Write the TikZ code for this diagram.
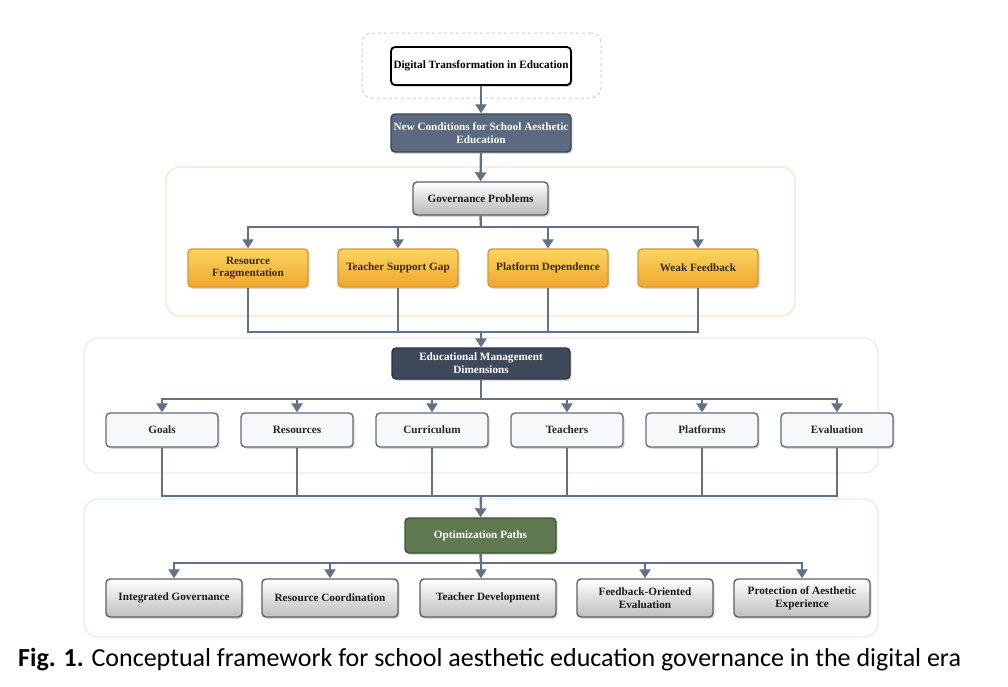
\documentclass[tikz,border=0pt]{standalone}
\usepackage{fontspec}
\setmainfont{Liberation Serif}
\newfontfamily\capfont{Carlito}
\usetikzlibrary{arrows.meta,shadows}
\definecolor{connc}{HTML}{627088}
\definecolor{ncfill}{HTML}{5B6A80}
\definecolor{ncdraw}{HTML}{3A4556}
\definecolor{edfill}{HTML}{3E495B}
\definecolor{edfdraw}{HTML}{2C3442}
\definecolor{ortop}{HTML}{FBD561}
\definecolor{orbot}{HTML}{EFA62C}
\definecolor{ordraw}{HTML}{D39A35}
\definecolor{ortext}{HTML}{3A2A12}
\definecolor{optfill}{HTML}{5F7A50}
\definecolor{optdraw}{HTML}{3E5533}
\definecolor{dimfill}{HTML}{F7F8FA}
\definecolor{dimdraw}{HTML}{626D7A}
\definecolor{graydraw}{HTML}{5E6064}
\definecolor{pan1}{HTML}{FBE4CC}
\definecolor{pan2}{HTML}{E9ECF0}
\definecolor{pan3}{HTML}{DEF0EE}
\definecolor{dashc}{HTML}{CFCFCF}
\begin{document}
\begin{tikzpicture}[x=1pt,y=-1pt,
  conn/.style={draw=connc, line width=2.4pt},
  arr/.style={conn, -{Triangle[width=11pt,length=9pt]}},
  box/.style={rounded corners=4pt, align=center, inner sep=2pt, line width=1.4pt,
    font=\fontsize{11.2}{12.8}\selectfont\bfseries,
    drop shadow={opacity=0.3, shadow xshift=1.5pt, shadow yshift=-1.8pt}},
  panel/.style={rounded corners=14pt, line width=1.3pt, fill=white},
  topbox/.style={box, draw=black, fill=white, line width=1.8pt, text=black},
  ncbox/.style={box, draw=ncdraw, fill=ncfill, text=white},
  edbox/.style={box, draw=edfdraw, fill=edfill, text=white},
  gpbox/.style={box, draw=graydraw, top color=white, bottom color=gray!55, text=black!90},
  orbox/.style={box, draw=ordraw, top color=ortop, bottom color=orbot, text=ortext},
  dimbox/.style={box, draw=dimdraw, fill=dimfill, text=black!85},
  optbox/.style={box, draw=optdraw, fill=optfill, text=white},
  pathbox/.style={box, draw=graydraw, top color=white, bottom color=gray!50, text=black!90},
]
\useasboundingbox (0,0) rectangle (1008,686);
\fill[white] (0,0) rectangle (1008,686);

% panels
\node[panel, draw=dashc, dashed, rounded corners=10pt, line width=1pt, minimum width=239pt, minimum height=65pt] (p0) at (481.5,65.5) {};
\node[panel, draw=pan1, minimum width=629pt, minimum height=149pt] (p1) at (480.5,241.5) {};
\node[panel, draw=pan2, minimum width=794pt, minimum height=135pt] (p2) at (481,405.5) {};
\node[panel, draw=pan3, minimum width=794pt, minimum height=138pt] (p3) at (481,568) {};

% top
\node[topbox, minimum width=180pt, minimum height=38pt] (dt) at (481,66) {Digital Transformation in Education};
\node[ncbox, minimum width=180pt, minimum height=38pt] (nc) at (481,133) {New Conditions for School Aesthetic\\Education};

% governance problems
\node[gpbox, minimum width=135pt, minimum height=33pt] (gp) at (480.5,198.5) {Governance Problems};
\node[orbox, minimum width=120pt, minimum height=38pt] (rf) at (248,268) {Resource\\Fragmentation};
\node[orbox, minimum width=120pt, minimum height=38pt] (tg) at (398,268) {Teacher Support Gap};
\node[orbox, minimum width=120pt, minimum height=38pt] (pd) at (548,268) {Platform Dependence};
\node[orbox, minimum width=120pt, minimum height=38pt] (wf) at (698,268) {Weak Feedback};

% dimensions
\node[edbox, minimum width=178pt, minimum height=31pt] (ed) at (481,363.5) {Educational Management\\Dimensions};
\node[dimbox, minimum width=112pt, minimum height=34pt] (d1) at (162,430) {Goals};
\node[dimbox, minimum width=112pt, minimum height=34pt] (d2) at (297,430) {Resources};
\node[dimbox, minimum width=112pt, minimum height=34pt] (d3) at (432,430) {Curriculum};
\node[dimbox, minimum width=112pt, minimum height=34pt] (d4) at (567,430) {Teachers};
\node[dimbox, minimum width=112pt, minimum height=34pt] (d5) at (702,430) {Platforms};
\node[dimbox, minimum width=112pt, minimum height=34pt] (d6) at (837,430) {Evaluation};

% optimization
\node[optbox, minimum width=151pt, minimum height=35pt] (op) at (480.5,535.5) {Optimization Paths};
\node[pathbox, minimum width=136pt, minimum height=38pt] (o1) at (174,598) {Integrated Governance};
\node[pathbox, minimum width=136pt, minimum height=38pt] (o2) at (330,598) {Resource Coordination};
\node[pathbox, minimum width=136pt, minimum height=38pt] (o3) at (488,598) {Teacher Development};
\node[pathbox, minimum width=136pt, minimum height=38pt] (o4) at (645,598) {Feedback-Oriented\\Evaluation};
\node[pathbox, minimum width=136pt, minimum height=38pt] (o5) at (802,598) {Protection of Aesthetic\\Experience};

% junctions
\coordinate (j1) at (481,227);
\coordinate (j2) at (481,332);
\coordinate (j3) at (481,399);
\coordinate (j4) at (481,496);
\coordinate (j5) at (481,563);

% connectors
\draw[arr] (dt.south) -- (nc.north);
\draw[arr] (nc.south) -- (gp.north);
\draw[conn] (gp.south) -- (j1);
\foreach \n in {rf,tg,pd,wf} \draw[arr] (j1) -| (\n.north);
\foreach \n in {rf,tg,pd,wf} \draw[conn] (\n.south) |- (j2);
\draw[arr] (j2) -- (ed.north);
\draw[conn] (ed.south) -- (j3);
\foreach \n in {d1,d2,d3,d4,d5,d6} \draw[arr] (j3) -| (\n.north);
\foreach \n in {d1,d2,d3,d4,d5,d6} \draw[conn] (\n.south) |- (j4);
\draw[arr] (j4) -- (op.north);
\draw[conn] (op.south) -- (j5);
\foreach \n in {o1,o2,o4,o5} \draw[arr] (j5) -| (\n.north);
\draw[arr] (j5) -- (j5 |- o3.north);

% caption
\node[anchor=base west, inner sep=0pt, font=\capfont\fontsize{26}{30}\selectfont] (cap) at (18,666) {\textbf{Fig. 1.} Conceptual framework for school aesthetic education governance in the digital era};
\end{tikzpicture}
\end{document}
